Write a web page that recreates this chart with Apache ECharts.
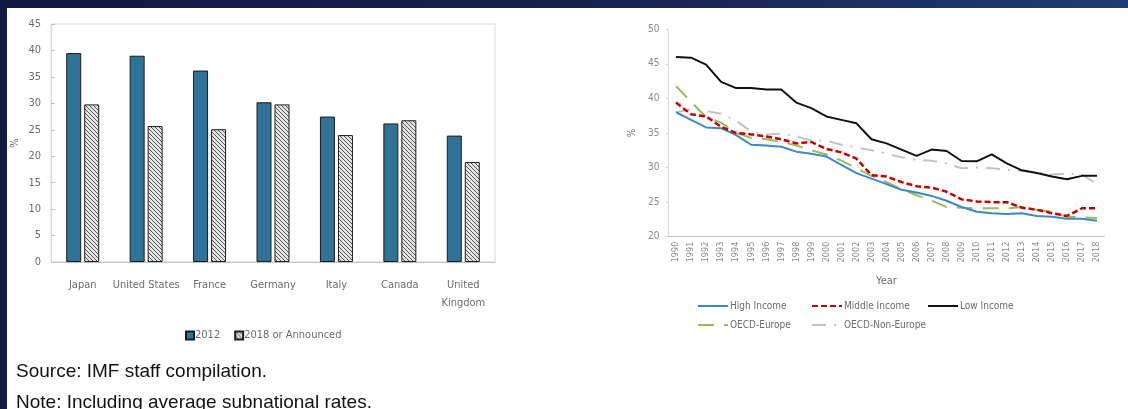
<!DOCTYPE html>
<html>
<head>
<meta charset="utf-8">
<script src="https://cdn.jsdelivr.net/npm/echarts@6/dist/echarts.min.js"></script>
<style>
  html, body { margin: 0; padding: 0; }
  body {
    width: 1128px; height: 409px; overflow: hidden; position: relative;
    background: linear-gradient(90deg, #111843 0%, #16214f 50%, #213b74 100%);
  }
  #panel { position: absolute; left: 7px; top: 8px; width: 1121px; height: 401px; background: #fff; }
  #chart { position: absolute; left: 0; top: 0; width: 1128px; height: 409px; }
</style>
</head>
<body>
<div id="panel"></div>
<div id="chart"></div>
<script>
// left panel: corporate rates by country
const countries = ['Japan', 'United States', 'France', 'Germany', 'Italy', 'Canada', 'United\nKingdom']
const rate2012 = [39.5, 39.0, 36.2, 30.2, 27.5, 26.2, 23.9]
const rate2018 = [29.8, 25.7, 25.1, 29.8, 24.0, 26.8, 18.9]

// right panel: averages by group, 1990-2018
const years = ['1990', '1991', '1992', '1993', '1994', '1995', '1996', '1997', '1998', '1999',
  '2000', '2001', '2002', '2003', '2004', '2005', '2006', '2007', '2008', '2009',
  '2010', '2011', '2012', '2013', '2014', '2015', '2016', '2017', '2018']
const highIncome = [38.0, 36.9, 35.8, 35.7, 34.7, 33.3, 33.2, 33.0, 32.3, 32.0,
  31.6, 30.4, 29.2, 28.4, 27.6, 26.8, 26.4, 25.9, 25.2, 24.3,
  23.6, 23.4, 23.3, 23.4, 23.0, 22.9, 22.6, 22.6, 22.3]
const middleIncome = [39.4, 37.7, 37.4, 35.9, 35.0, 34.8, 34.5, 34.1, 33.5, 33.7,
  32.7, 32.2, 31.3, 28.9, 28.7, 27.9, 27.3, 27.1, 26.5, 25.4,
  25.1, 25.0, 25.0, 24.2, 23.9, 23.4, 23.0, 24.1, 24.1]
const lowIncome = [46.0, 45.9, 44.9, 42.4, 41.5, 41.5, 41.3, 41.3, 39.4, 38.6,
  37.4, 36.9, 36.4, 34.1, 33.5, 32.6, 31.7, 32.6, 32.4, 30.95,
  30.9, 31.9, 30.6, 29.6, 29.2, 28.7, 28.3, 28.8, 28.8]
const oecdEurope = [41.8, 39.5, 37.3, 36.5, 35.0, 34.3, 34.1, 33.7, 33.2, 32.5,
  31.9, 31.0, 29.9, 28.8, 27.9, 26.9, 26.0, 25.2, 24.3, 24.2,
  24.1, 24.1, 24.1, 24.3, 23.9, 23.6, 22.9, 22.8, 22.7]
const oecdNonEurope = [38.0, 38.4, 38.2, 37.8, 36.8, 35.2, 34.8, 34.9, 34.5, 33.9,
  33.9, 33.3, 32.9, 32.5, 32.0, 31.5, 31.1, 31.0, 30.6, 29.9,
  30.0, 29.9, 29.7, 29.5, 29.3, 29.0, 29.1, 29.0, 27.6]

const narrow = '"Liberation Sans Narrow", "DejaVu Sans Condensed", sans-serif'
const grayText = '#6b6b6b'

// hatch fill for the second bar series
function makeHatch() {
  const c = document.createElement('canvas')
  c.width = 4
  c.height = 4
  const ctx = c.getContext('2d')
  ctx.fillStyle = '#e4e4e4'
  ctx.fillRect(0, 0, 4, 4)
  ctx.strokeStyle = '#555'
  ctx.lineWidth = 1
  ctx.beginPath()
  ctx.moveTo(-1, -1); ctx.lineTo(5, 5)
  ctx.moveTo(-1, 3); ctx.lineTo(1, 5)
  ctx.moveTo(3, -1); ctx.lineTo(5, 1)
  ctx.stroke()
  return c
}
const hatch = { image: makeHatch(), repeat: 'repeat' }

const chart = echarts.init(document.getElementById('chart'))

function lineLegend(name, left, top) {
  return {
    data: [name], left: left, top: top, padding: 0, itemWidth: 30, itemHeight: 10, itemGap: 0,
    itemStyle: { opacity: 0 },
    textStyle: { fontFamily: narrow, fontSize: 10, color: grayText, padding: [0, 0, 0, -3] }
  }
}

chart.setOption({
  animation: false,
  grid: [
    { left: 51, right: 633, top: 24, bottom: 147, show: true, borderColor: '#d9d9d9', borderWidth: 1 },
    { left: 668.5, right: 23.5, top: 29.3, bottom: 172.3 }
  ],
  legend: [
    {
      data: ['2012', '2018 or Announced'], icon: 'rect', left: 185, top: 330, padding: 0,
      itemWidth: 8, itemHeight: 8, itemGap: 14,
      textStyle: { fontFamily: narrow, fontSize: 11, color: grayText, padding: [0, 0, 0, -4] }
    },
    lineLegend('High Income', 697, 301),
    lineLegend('Middle Income', 811, 301),
    lineLegend('Low Income', 927, 301),
    lineLegend('OECD-Europe', 697, 320),
    lineLegend('OECD-Non-Europe', 811, 320)
  ],
  xAxis: [
    {
      type: 'category', gridIndex: 0, data: countries,
      axisLine: { lineStyle: { color: '#bfbfbf' } },
      axisTick: { length: 4, lineStyle: { color: '#bfbfbf' } },
      axisLabel: { fontFamily: narrow, fontSize: 11, color: grayText, margin: 14, lineHeight: 18, interval: 0 }
    },
    {
      type: 'category', gridIndex: 1, data: years, boundaryGap: true,
      name: 'Year', nameLocation: 'middle', nameGap: 39,
      nameTextStyle: { fontFamily: narrow, fontSize: 11, color: grayText },
      axisLine: { lineStyle: { color: '#bfbfbf' } },
      axisTick: { length: 3, lineStyle: { color: '#bfbfbf' } },
      axisLabel: { fontFamily: narrow, fontSize: 9, color: '#8a8a8a', rotate: 90, interval: 0, margin: 5 }
    }
  ],
  yAxis: [
    {
      type: 'value', gridIndex: 0, min: 0, max: 45, interval: 5,
      name: '%', nameLocation: 'middle', nameGap: 30,
      nameTextStyle: { fontFamily: narrow, fontSize: 11, color: grayText },
      axisLine: { show: true, lineStyle: { color: '#d9d9d9' } },
      axisTick: { show: true, inside: true, length: 4, lineStyle: { color: '#bfbfbf' } },
      splitLine: { show: false },
      axisLabel: { fontFamily: narrow, fontSize: 11, color: grayText, margin: 10 }
    },
    {
      type: 'value', gridIndex: 1, min: 20, max: 50, interval: 5,
      name: '%', nameLocation: 'middle', nameGap: 31,
      nameTextStyle: { fontFamily: narrow, fontSize: 10, color: grayText },
      axisLine: { show: true, lineStyle: { color: '#d9d9d9' } },
      axisTick: { show: true, length: 3, lineStyle: { color: '#d9d9d9' } },
      splitLine: { show: false },
      axisLabel: { fontFamily: narrow, fontSize: 10, color: '#8a8a8a', margin: 9 }
    }
  ],
  series: [
    {
      name: '2012', type: 'bar', xAxisIndex: 0, yAxisIndex: 0, data: rate2012,
      barWidth: 15, barGap: '20%',
      itemStyle: { color: '#2f7398', borderColor: '#1c1c1c', borderWidth: 1 }
    },
    {
      name: '2018 or Announced', type: 'bar', xAxisIndex: 0, yAxisIndex: 0, data: rate2018,
      barWidth: 15,
      itemStyle: { color: hatch, borderColor: '#1c1c1c', borderWidth: 1 }
    },
    {
      name: 'OECD-Non-Europe', type: 'line', xAxisIndex: 1, yAxisIndex: 1, data: oecdNonEurope,
      symbol: 'none', lineStyle: { color: '#c3c3c3', width: 2, type: [14, 8, 2, 8] }, itemStyle: { color: '#c3c3c3' }
    },
    {
      name: 'OECD-Europe', type: 'line', xAxisIndex: 1, yAxisIndex: 1, data: oecdEurope,
      symbol: 'none', lineStyle: { color: '#9bbb59', width: 2, type: [16, 10] }, itemStyle: { color: '#9bbb59' }
    },
    {
      name: 'High Income', type: 'line', xAxisIndex: 1, yAxisIndex: 1, data: highIncome,
      symbol: 'none', lineStyle: { color: '#3f87c5', width: 2 }, itemStyle: { color: '#3f87c5' }
    },
    {
      name: 'Middle Income', type: 'line', xAxisIndex: 1, yAxisIndex: 1, data: middleIncome,
      symbol: 'none', lineStyle: { color: '#c00000', width: 2.5, type: [6, 3] }, itemStyle: { color: '#c00000' }
    },
    {
      name: 'Low Income', type: 'line', xAxisIndex: 1, yAxisIndex: 1, data: lowIncome,
      symbol: 'none', lineStyle: { color: '#111', width: 2 }, itemStyle: { color: '#111' }
    }
  ],
  graphic: [
    {
      type: 'text', left: 16, top: 362,
      style: { text: 'Source: IMF staff compilation.', fontFamily: '"Liberation Sans", Arial, sans-serif', fontSize: 19, fill: '#111' }
    },
    {
      type: 'text', left: 16, top: 393,
      style: { text: 'Note: Including average subnational rates.', fontFamily: '"Liberation Sans", Arial, sans-serif', fontSize: 19, fill: '#111' }
    }
  ]
})
</script>
</body>
</html>
